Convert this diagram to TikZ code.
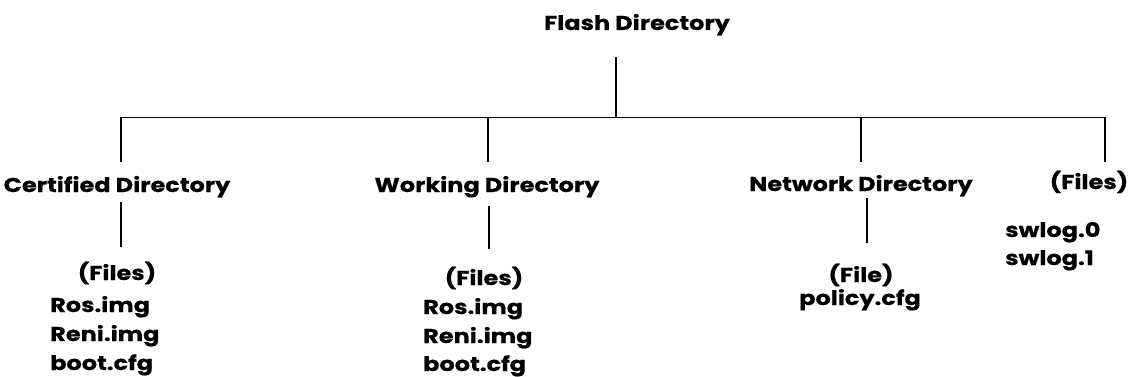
\documentclass[tikz,border=0pt]{standalone}
\usepackage{fontspec}
\setmainfont{Poppins}[BoldFeatures={FakeStretch=1.2,FakeBold=0.6}]
\begin{document}
\begin{tikzpicture}[x=1pt,y=-1pt,
  lbl/.style={font=\fontsize{20}{24}\selectfont\bfseries, inner sep=0pt, anchor=base},
  fl/.style={font=\fontsize{20}{24}\selectfont\bfseries, inner sep=0pt, anchor=base west},
  conn/.style={line width=1.9pt}]
\useasboundingbox (0,0) rectangle (1131,377);
% top
\node[lbl] (flash) at (637,30) {Flash Directory};
\coordinate (t0) at (616,57);
\coordinate (bar) at (616,117.5);
\coordinate (b1) at (121,117.5);
\coordinate (b2) at (488,117.5);
\coordinate (b3) at (861,117.5);
\coordinate (b4) at (1105,117.5);
\coordinate (d1) at (121,162);
\coordinate (d2) at (488,162);
\coordinate (d3) at (861,162);
\coordinate (d4) at (1105,162);
\draw[conn] (t0) -- (bar);
\draw[conn,line cap=rect] (b1) -- (b4);
\draw[conn] (b1) -- (d1);
\draw[conn] (b2) -- (d2);
\draw[conn] (b3) -- (d3);
\draw[conn] (b4) -- (d4);
% level 1
\node[lbl] (cert) at (117,192) {Certified Directory};
\node[lbl] (work) at (487,192) {Working Directory};
\node[lbl] (net) at (861,191) {Network Directory};
\node[lbl] (rf) at (1089,189) {(Files)};
% second drops
\coordinate (c1) at (121,202);
\coordinate (c2) at (121,247);
\coordinate (w1) at (489,206);
\coordinate (w2) at (489,249);
\coordinate (n1) at (867,198);
\coordinate (n2) at (867,243);
\draw[conn] (c1) -- (c2);
\draw[conn] (w1) -- (w2);
\draw[conn] (n1) -- (n2);
% certified files
\node[lbl] (cf) at (117,280) {(Files)};
\node[fl] (c_ros) at (50,312) {Ros.img};
\node[fl] (c_reni) at (50,341) {Reni.img};
\node[fl] (c_boot) at (50,370) {boot.cfg};
% working files
\node[lbl] (wf) at (484,285) {(Files)};
\node[fl] (w_ros) at (423,314) {Ros.img};
\node[fl] (w_reni) at (423,343) {Reni.img};
\node[fl] (w_boot) at (423,371) {boot.cfg};
% network
\node[lbl] (nf) at (861,282) {(File)};
\node[lbl] (pol) at (860,305) {policy.cfg};
% root files
\node[fl] (sw0) at (1005,237) {swlog.0};
\node[fl] (sw1) at (1005,265) {swlog.1};
\end{tikzpicture}
\end{document}
